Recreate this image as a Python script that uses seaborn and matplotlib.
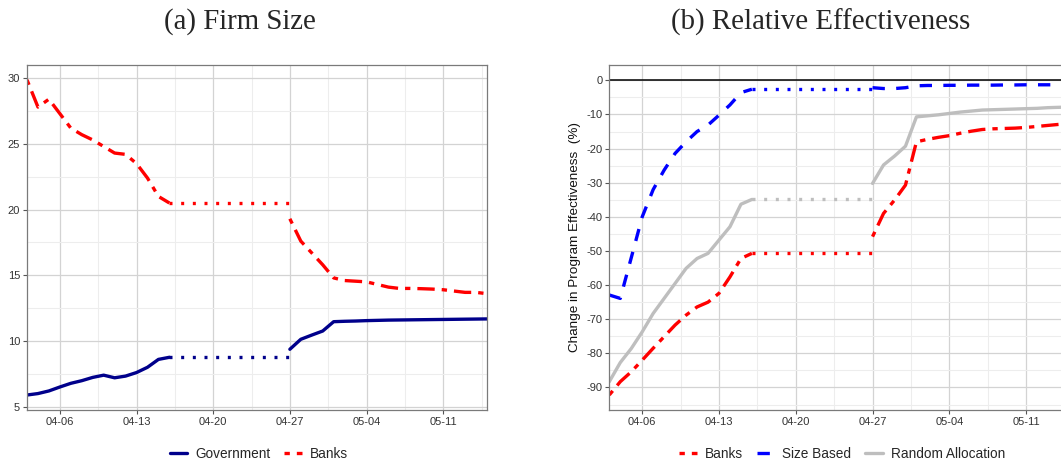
import numpy as np
import pandas as pd
import matplotlib
matplotlib.use("Agg")
import matplotlib.pyplot as plt
import matplotlib.dates as mdates
from matplotlib.lines import Line2D
from matplotlib.ticker import AutoMinorLocator, MultipleLocator
import seaborn as sns

# dates: data before the gap, the gap, after the gap
pre_dates = pd.date_range("2020-04-03", "2020-04-16", freq="D")
post_dates = pd.date_range("2020-04-27", "2020-05-15", freq="D")

# (a) Firm Size
gov_pre = [5.89, 6.0, 6.2, 6.5, 6.78, 6.98, 7.23, 7.4, 7.2, 7.33, 7.6, 8.0, 8.6, 8.76]
gov_post = [9.37, 10.13, 10.45, 10.76, 11.47, 11.5, 11.52, 11.55, 11.57, 11.59, 11.6,
            11.61, 11.62, 11.63, 11.64, 11.65, 11.66, 11.67, 11.68]
bank_size_pre = [29.87, 27.8, 28.4, 27.3, 26.2, 25.7, 25.3, 24.8, 24.3, 24.2, 23.5, 22.4, 21.0, 20.5]
bank_size_post = [19.3, 17.6, 16.7, 15.8, 14.8, 14.6, 14.55, 14.5, 14.3, 14.1, 14.0, 14.0,
                  13.98, 13.95, 13.9, 13.8, 13.7, 13.7, 13.6]

# (b) Relative Effectiveness
banks_pre = [-92.2, -88.3, -85.4, -82.0, -78.5, -75.1, -71.7, -68.8, -66.4, -65.0,
             -62.4, -57.6, -52.2, -50.7]
banks_post = [-45.8, -39.0, -35.1, -30.7, -18.0, -17.3, -16.7, -16.2, -15.5, -14.9, -14.4,
              -14.2, -14.1, -14.0, -13.8, -13.5, -13.2, -12.9, -12.7]
size_pre = [-62.9, -63.9, -52.0, -40.0, -32.0, -26.3, -21.4, -18.0, -15.0, -13.1,
            -10.2, -7.2, -3.6, -2.6]
size_post = [-2.15, -2.4, -2.4, -2.15, -1.6, -1.5, -1.5, -1.45, -1.45, -1.4, -1.4, -1.4,
             -1.35, -1.35, -1.3, -1.3, -1.3, -1.3, -1.3]
random_pre = [-88.3, -82.7, -78.6, -73.7, -68.3, -63.9, -59.5, -55.1, -52.2, -50.7,
              -46.8, -42.9, -36.3, -34.9]
random_post = [-30.2, -24.8, -22.2, -19.3, -10.7, -10.4, -10.1, -9.7, -9.3, -9.0, -8.7,
               -8.6, -8.5, -8.4, -8.3, -8.2, -8.0, -7.9, -7.8]

NAVY, RED, BLUE, GREY = "#00008B", "#FF0000", "#0000FF", "#BEBEBE"
LW = 2.4
SOLID = "-"
DASHED = (0, (3.7, 3.4))
TWODASH = (0, (1.6, 2.1, 5.2, 2.1))
DOTTED = (0, (0.9, 2.6))

sns.set_style("ticks")
plt.rcParams["font.family"] = ["Liberation Sans", "DejaVu Sans"]
plt.rcParams["axes.unicode_minus"] = False

fig = plt.figure(figsize=(10.61, 4.66), dpi=100)
ax1 = fig.add_axes([27 / 1061, 56 / 466, 460 / 1061, 345 / 466])
ax2 = fig.add_axes([609.3 / 1061, 56 / 466, 460.7 / 1061, 345 / 466])


def draw(ax, pre, post, color, style):
    sns.lineplot(x=pre_dates, y=pre, ax=ax, color=color, lw=LW, linestyle=style)
    gap_x = [pre_dates[-1], post_dates[0]]
    sns.lineplot(x=gap_x, y=[pre[-1], pre[-1]], ax=ax, color=color, lw=LW, linestyle=DOTTED)
    sns.lineplot(x=post_dates, y=post, ax=ax, color=color, lw=LW, linestyle=style)


draw(ax1, gov_pre, gov_post, NAVY, SOLID)
draw(ax1, bank_size_pre, bank_size_post, RED, TWODASH)

ax2.axhline(0, color="black", lw=1.1, zorder=1)
draw(ax2, random_pre, random_post, GREY, SOLID)
draw(ax2, banks_pre, banks_post, RED, TWODASH)
draw(ax2, size_pre, size_post, BLUE, DASHED)

for ax in (ax1, ax2):
    ax.set_xlim(pd.Timestamp("2020-04-03"), pd.Timestamp("2020-05-15"))
    ax.xaxis.set_major_locator(mdates.WeekdayLocator(byweekday=mdates.MO))
    ax.xaxis.set_major_formatter(mdates.DateFormatter("%m-%d"))
    ax.xaxis.set_minor_locator(AutoMinorLocator(2))
    ax.yaxis.set_minor_locator(AutoMinorLocator(2))
    ax.grid(which="major", color="#D3D3D3", lw=0.9)
    ax.grid(which="minor", color="#EDEDED", lw=0.8)
    ax.set_axisbelow(True)
    ax.tick_params(which="major", length=3, width=0.8, color="#555555",
                   labelsize=8, labelcolor="#333333", pad=2)
    ax.tick_params(which="minor", length=0)
    for sp in ax.spines.values():
        sp.set_color("#7A7A7A")
        sp.set_linewidth(0.9)
    ax.set_xlabel("")

ax1.set_ylim(4.75, 31.0)
ax1.yaxis.set_major_locator(MultipleLocator(5))
ax1.set_ylabel("")

ax2.set_ylim(-96.6, 4.5)
ax2.yaxis.set_major_locator(MultipleLocator(10))
ax2.set_ylabel("Change in Program Effectiveness  (%)", fontsize=9.7, color="#111111", labelpad=4)

# titles (serif, centred over each panel image)
fig.text(240 / 1061, 1 - 22 / 466, "(a) Firm Size", family=["Liberation Serif", "DejaVu Serif"],
         fontsize=20.8, ha="center", va="center")
fig.text(821 / 1061, 1 - 22 / 466, "(b) Relative Effectiveness",
         family=["Liberation Serif", "DejaVu Serif"], fontsize=20.8, ha="center", va="center")

# legends
h1 = [Line2D([], [], color=NAVY, lw=LW, linestyle=SOLID),
      Line2D([], [], color=RED, lw=LW, linestyle=TWODASH)]
fig.legend(h1, ["Government", "Banks"], loc="center", bbox_to_anchor=(259 / 1061, 12 / 466),
           ncol=2, frameon=False, fontsize=9.8, handlelength=1.3, columnspacing=1.0,
           handletextpad=0.6)
h2 = [Line2D([], [], color=RED, lw=LW, linestyle=TWODASH),
      Line2D([], [], color=BLUE, lw=LW, linestyle=DASHED),
      Line2D([], [], color=GREY, lw=LW, linestyle=SOLID)]
fig.legend(h2, ["Banks", "Size Based", "Random Allocation"], loc="center",
           bbox_to_anchor=(842 / 1061, 12 / 466), ncol=3, frameon=False, fontsize=9.8,
           handlelength=1.3, columnspacing=1.0, handletextpad=0.6)

fig.savefig("out.png", dpi=100)
